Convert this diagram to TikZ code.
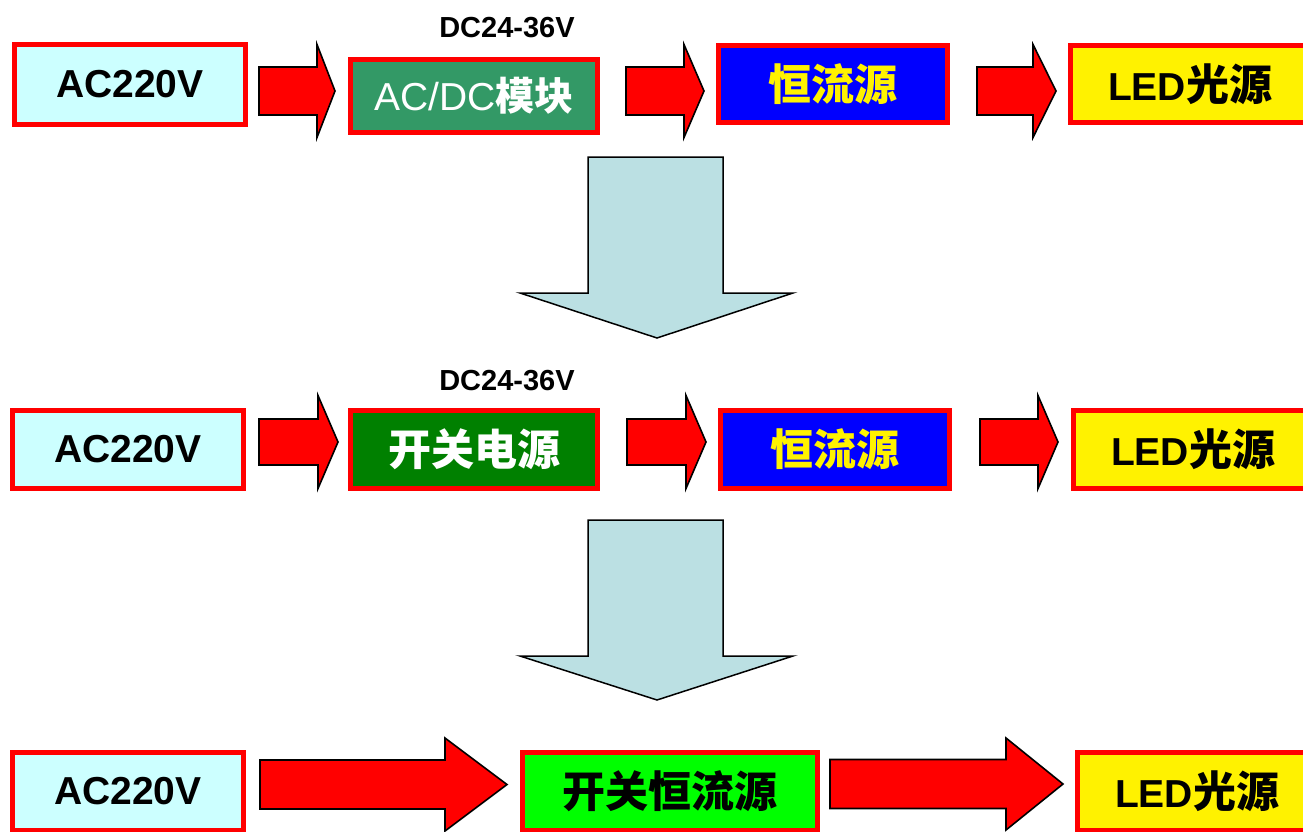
\documentclass[tikz,border=0pt]{standalone}
\usepackage{fontspec}
\setmainfont{Liberation Sans}
\newfontfamily\cjk{Noto Sans CJK SC}
\newcommand\zh[1]{{\cjk\fontsize{43}{46}\selectfont #1}}
\definecolor{accyan}{RGB}{204,255,255}
\definecolor{seagreen}{RGB}{51,153,102}
\definecolor{dkgreen}{RGB}{0,128,0}
\definecolor{ltgreen}{RGB}{0,255,0}
\definecolor{downfill}{RGB}{187,224,227}
\tikzset{
 box/.style={draw=red, line width=5pt, rectangle, inner sep=0pt, minimum height=78pt, font=\fontsize{39}{42}\selectfont\bfseries},
 redarr/.style={fill=red, draw=black, line width=1.6pt, line join=miter},
 downarr/.style={fill=downfill, draw=black, line width=1.5pt, line join=miter},
 lbl/.style={font=\fontsize{29}{31}\selectfont\bfseries, inner sep=0pt}
}
\newcommand\blockarrow[6]{%
 \draw[redarr] (#1,#4-#5) -- (#2,#4-#5) -- (#2,#4-#6) -- (#3,#4) -- (#2,#4+#6) -- (#2,#4+#5) -- (#1,#4+#5) -- cycle;}
\begin{document}
\begin{tikzpicture}[x=1pt,y=-1pt]
\useasboundingbox (0,0) rectangle (1303,832);
% Row 1
\node[box, fill=accyan, minimum width=231pt, minimum height=80pt] (a1) at (130,84.5) {AC220V};
\node[box, fill=seagreen, text=white, minimum width=247pt, minimum height=73pt] (b1) at (474,96) {{\mdseries AC/DC}{\cjk 模块}};
\node[box, fill=blue, text=yellow, minimum width=229pt, minimum height=77pt] (c1) at (833,84) {\zh{恒流源}};
\node[box, fill=yellow, minimum width=239pt, minimum height=77pt] (d1) at (1190,84) {LED\zh{光源}};
\node[lbl] (v1) at (507,28) {DC24-36V};
\blockarrow{259}{317}{335}{91}{24}{46.5}
\blockarrow{626}{684}{704}{91}{24}{46.5}
\blockarrow{977}{1033}{1056}{91}{24}{46.5}
% down arrow 1
\draw[downarr] (588,157) -- (723,157) -- (723,293) -- (793,293) -- (657,338) -- (520,293) -- (588,293) -- cycle;
% Row 2
\node[box, fill=accyan, minimum width=231pt] (a2) at (128,449.5) {AC220V};
\node[box, fill=dkgreen, text=white, minimum width=247pt] (b2) at (474,449.5) {\zh{开关电源}};
\node[box, fill=blue, text=yellow, minimum width=229pt] (c2) at (835,449.5) {\zh{恒流源}};
\node[box, fill=yellow, minimum width=239pt] (d2) at (1193,449.5) {LED\zh{光源}};
\node[lbl] (v2) at (507,381) {DC24-36V};
\blockarrow{259}{318}{338}{442}{23}{46.5}
\blockarrow{627}{686}{706}{442}{23}{46.5}
\blockarrow{980}{1038}{1058}{442}{23}{46.5}
% down arrow 2
\draw[downarr] (588,520) -- (723,520) -- (723,656) -- (793,656) -- (657,700) -- (520,656) -- (588,656) -- cycle;
% Row 3
\node[box, fill=accyan, minimum width=231pt] (a3) at (128,791) {AC220V};
\node[box, fill=ltgreen, minimum width=295pt] (b3) at (670,791) {\zh{开关恒流源}};
\node[box, fill=yellow, minimum width=239pt] (c3) at (1197,791) {LED\zh{光源}};
\blockarrow{260}{445}{507}{784.5}{24.5}{46.5}
\blockarrow{830}{1006}{1063}{784}{24.5}{46}
\end{tikzpicture}
\end{document}
